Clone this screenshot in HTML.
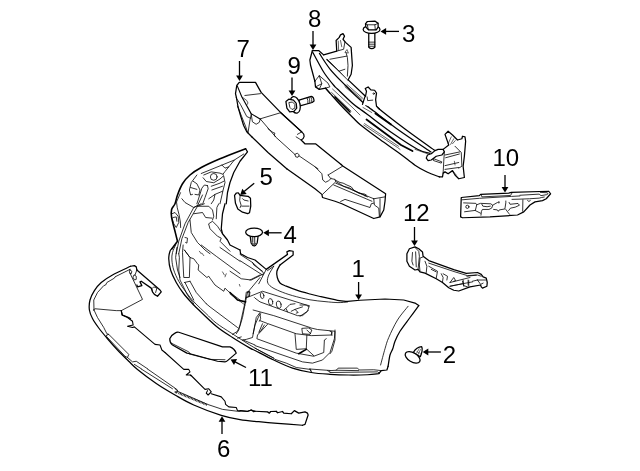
<!DOCTYPE html>
<html lang="en">
<head>
<meta charset="utf-8">
<title>Front Bumper Parts Diagram</title>
<style>
html,body{margin:0;padding:0;background:#fff;}
body{width:640px;height:471px;overflow:hidden;}
svg{display:block;filter:grayscale(1);}
svg path, svg line, svg polyline, svg ellipse, svg circle{vector-effect:non-scaling-stroke;}
.p{fill:none;stroke:#000;stroke-width:.8;stroke-linecap:round;stroke-linejoin:round;}
.o{fill:none;stroke:#000;stroke-width:1.25;stroke-linecap:round;stroke-linejoin:round;}
.t{fill:none;stroke:#111;stroke-width:0.65;stroke-linecap:round;stroke-linejoin:round;}
.w{fill:#fff;}
.lbl{font-family:"Liberation Sans",Arial,sans-serif;font-size:24px;fill:#000;}
.al{stroke:#000;stroke-width:1.3;fill:none;}
.ah{fill:#000;stroke:none;}
</style>
</head>
<body>
<svg width="640" height="471" viewBox="0 0 640 471">
<rect width="640" height="471" fill="#fff"/>
<!-- part 1: bumper cover -->
<g id="part1">
 <!-- long smooth outlines (real coords) -->
 <path class="o" style="stroke-width:1.6" d="M245.60,148.75 C241.33,150.42 227.39,155.62 220.00,158.75 C212.61,161.88 206.25,164.79 201.25,167.50 C196.25,170.21 193.12,172.29 190.00,175.00 C186.88,177.71 184.58,180.42 182.50,183.75 C180.42,187.08 178.75,191.67 177.50,195.00 C176.25,198.33 175.98,201.33 175.00,203.75 C174.02,206.17 172.17,207.21 171.60,209.50 C171.03,211.79 171.03,213.88 171.60,217.50 C172.17,221.12 174.02,227.29 175.00,231.25 C175.98,235.21 177.08,239.58 177.50,241.25 L171.9,248.75"/>
 <path class="o" d="M171.90,248.75 C171.58,249.17 170.53,249.58 170.00,251.25 C169.47,252.92 168.65,255.62 168.75,258.75 C168.85,261.88 169.35,266.04 170.60,270.00 C171.85,273.96 174.06,278.54 176.25,282.50 C178.44,286.46 181.04,290.21 183.75,293.75 C186.46,297.29 190.21,301.25 192.50,303.75 C194.79,306.25 193.54,305.00 197.50,308.75 C201.46,312.50 210.42,321.46 216.25,326.25 C222.08,331.04 226.88,333.86 232.50,337.50 C238.12,341.14 246.25,345.93 250.00,348.10 C253.75,350.27 251.04,348.52 255.00,350.50 C258.96,352.48 267.50,357.07 273.75,360.00 C280.00,362.93 286.25,366.02 292.50,368.10 C298.75,370.18 305.00,371.47 311.25,372.50 C317.50,373.53 323.75,373.88 330.00,374.30 C336.25,374.72 342.50,374.93 348.75,375.00 C355.00,375.07 362.50,374.96 367.50,374.75 C372.50,374.54 376.88,373.92 378.75,373.75 L381.25,370.6 L386.9,370 L388.1,366.25"/>
 <path class="o" d="M388.10,366.25 C388.42,364.38 389.23,357.92 390.00,355.00 C390.77,352.08 391.92,351.04 392.75,348.75 C393.58,346.46 393.79,344.17 395.00,341.25 C396.21,338.33 397.50,335.21 400.00,331.25 C402.50,327.29 406.88,321.77 410.00,317.50 C413.12,313.23 417.29,307.58 418.75,305.60"/>
 <path class="p" d="M175.60,245.00 C175.08,246.25 173.12,250.00 172.50,252.50 C171.88,255.00 171.69,257.08 171.90,260.00 C172.11,262.92 172.61,266.46 173.75,270.00 C174.89,273.54 176.67,277.50 178.75,281.25 C180.83,285.00 183.54,288.88 186.25,292.50 C188.96,296.12 191.71,299.50 195.00,303.00 C198.29,306.50 202.46,310.15 206.00,313.50 C209.54,316.85 211.93,319.77 216.25,323.10 C220.57,326.43 225.44,329.33 231.90,333.50 C238.36,337.67 248.03,344.00 255.00,348.10 C261.98,352.20 270.62,356.43 273.75,358.10"/>
 <!-- 1A: upper-left wing -->
 <g transform="translate(170,145) scale(.125)">
  <path class="o" d="M605,30 L620,55 L560,130 L510,220 L480,300 L460,380 L450,470"/>
  <path class="p" d="M590,72 L515,120 L250,228"/>
  <path class="p" d="M515,120 L440,212 L425,232 M415,160 L440,185 L470,175"/>
  <circle class="p" cx="350" cy="255" r="27"/>
  <path class="p" d="M270,240 L330,215 L400,225 L425,235 M265,262 L290,292 L350,302 L400,272 L430,245"/>
  <path class="p" d="M300,325 L275,320 L255,345 L225,440 L215,470 M300,325 L305,350 L280,420 L262,470"/>
  <path class="p" d="M215,240 L170,300 L155,360 L165,400 L180,395 M185,290 L215,310 L240,360 L230,400 L200,395 M165,340 L215,355"/>
  <path class="p" d="M330,330 L400,305 L430,290 M335,360 L420,330 M310,430 L360,395 L350,440 L330,470 M360,395 L420,370"/>
  <path class="p" d="M430,250 L440,300 L425,360 L400,470"/>
 </g>
 <!-- 1B -->
 <g transform="translate(160,195) scale(.125)">
  <path class="p" d="M95,150 L120,140 L145,170 L150,220 L130,260 L110,230 L95,180 M105,180 L130,175 L135,210"/>
  <path class="p" d="M164,-18 L132,56 L138,102 L152,155 L163,216 L165,260"/>
  <path class="p" d="M175,30 L200,60 L270,100 L300,85 L340,0"/>
  <path class="p" d="M330,70 L270,100 L200,230 L150,370 L130,470 M355,70 L300,90 L225,220 L175,350 L150,470"/>
  <path class="p" d="M300,90 L390,90 L420,120 L430,170 L420,200 M270,150 L340,140 L365,180 L415,185"/>
  <path class="p" d="M240,200 L250,300 L300,380 L360,440 L400,470"/>
  <path class="p" d="M390,230 L420,210 L460,250 L500,310"/>
  <path class="p" d="M390,235 L400,270 L460,330 L490,345 L480,370 L560,450"/>
  <path class="p" d="M470,70 L455,100 L450,190"/>
  <path class="o" d="M520,70 L500,150 L490,270 L500,310 L540,360 L560,400 L600,420 L640,440"/>
  <path class="p" d="M200,340 L220,345 L215,385 L205,380"/>
 </g>
 <!-- 1C -->
 <g transform="translate(160,245) scale(.125)">
  <path class="p" d="M135,20 L125,100 L140,200 L160,260"/>
  <path class="p" d="M150,70 L155,100 L150,200 L160,280 L220,400 L270,470"/>
  <path class="p" d="M185,0 L180,60 L190,260 L235,260 L240,100 L195,40"/>
  <path class="p" d="M195,300 L240,290 M200,300 L250,400 L270,440 M240,290 L290,380 L370,470"/>
  <path class="p" d="M195,40 L240,100 L270,110 L300,150 L310,160 L305,200 L375,260 L390,250 L400,265 L440,320 L510,370 L520,345 L545,370 L580,395 L640,440"/>
  <path class="t" d="M315,50 L330,70 M335,65 L350,85 M500,215 L515,240 M530,230 L520,255"/>
  <path class="p" d="M330,0 L450,90 L640,230 M480,20 L640,130"/>
 </g>
 <!-- 1D: horn -->
 <g transform="translate(230,225) scale(.125)">
  <path class="o" d="M80,200 L85,230 L140,260 L200,280 L290,355 L460,235 L455,215 L475,205 L505,210 L505,240 L400,320"/>
  <path class="p" d="M290,355 L230,470 M300,365 L350,330"/>
  <path class="p" d="M80,235 L180,300 L270,385 M180,300 L190,320 L260,370 M80,285 L260,400"/>
  <path class="p" d="M0,370 L90,430 L170,440 L270,390 M160,440 L240,400"/>
 </g>
 <!-- 1E: fog-lamp area -->
 <g transform="translate(230,275) scale(.125)">
  <path class="p" d="M150,175 L260,130 L610,240 L635,245 L620,290 L580,325 L540,325 L240,215 L200,185 L195,180"/>
  <ellipse class="p" cx="257" cy="165" rx="14" ry="24" transform="rotate(-12 257 165)"/>
  <ellipse class="p" cx="325" cy="215" rx="17" ry="27" transform="rotate(-12 325 215)"/>
  <ellipse class="p" cx="390" cy="237" rx="19" ry="30" transform="rotate(-12 390 237)"/>
  <path class="p" d="M430,280 L450,265 L480,235 L520,230 M450,270 L460,295 M490,290 L520,275 L580,255 M520,275 L545,300 L530,305"/>
  <path class="p" d="M185,280 L350,325 L640,420"/>
  <path class="p" d="M240,20 L140,140 L125,210 L100,340 L70,440 L50,470"/>
  <path class="p" d="M135,135 L155,130 L150,170 L125,185"/>
  <path class="p" style="stroke-width:1.6" d="M0,140 L60,200 L125,215"/>
  <path class="t" d="M0,152 L120,240"/>
  <path class="p" d="M245,310 L230,330 L200,400 L185,470 M240,310 L245,350 L235,370"/>
  <path class="t" d="M75,75 L80,90"/>
 </g>
 <!-- 1F + 1G: right fender top edge -->
 <path class="o" d="M280.00,265.00 C279.48,266.04 277.35,269.17 276.90,271.25 C276.45,273.33 276.78,275.54 277.30,277.50 C277.82,279.46 278.51,281.55 280.00,283.00 C281.49,284.45 283.33,284.97 286.25,286.20 C289.17,287.43 293.54,289.10 297.50,290.40 C301.46,291.70 306.25,292.98 310.00,294.00 C313.75,295.02 315.42,295.45 320.00,296.50 C324.58,297.55 332.92,299.48 337.50,300.30 C342.08,301.12 345.83,301.22 347.50,301.40 L360,300.25 L385,299 L403.75,300 L415,303.1 L418.75,305.6"/>
 <path class="p" d="M273.75,266.25 C272.92,267.71 269.79,272.38 268.75,275.00 C267.71,277.62 267.08,280.03 267.50,282.00 C267.92,283.97 269.17,285.26 271.25,286.80 C273.33,288.34 276.46,289.78 280.00,291.25 C283.54,292.72 287.50,294.18 292.50,295.60 C297.50,297.03 304.58,298.80 310.00,299.80 C315.42,300.80 320.33,301.13 325.00,301.60 C329.67,302.07 334.25,302.53 338.00,302.60 C341.75,302.67 345.92,302.10 347.50,302.00"/>
 <path class="p" d="M408.10,306.25 C406.33,308.54 400.73,314.79 397.50,320.00 C394.27,325.21 390.83,332.71 388.75,337.50 C386.67,342.29 386.36,344.17 385.00,348.75 C383.64,353.33 381.33,362.29 380.60,365.00"/>
 <g transform="translate(300,275) scale(.125)">
  <path class="p" d="M0,330 L60,290 L65,285 M0,240 L50,240 L70,255"/>
 </g>
 <!-- 1H: lower right -->
 <g transform="translate(330,330) scale(.125)">
  <path class="p" d="M0,325 L50,322 L65,305 L220,305 L235,320 L350,318 L410,325 M50,322 L230,325"/>
  <path class="p" d="M0,340 L380,335 L395,345"/>
  <path class="p" d="M40,0 L40,80 L15,170 L0,190 M0,10 L15,15 L15,45"/>
 </g>
 <!-- 1I: lower opening -->
 <g transform="translate(255,320) scale(.125)">
  <path class="p" d="M440,62 L500,76 L640,90 L635,150 L600,260 L540,320 L460,345 L380,335 L0,205"/>
  <path class="p" d="M40,5 L100,28 L330,110 L450,125 L610,120 L615,95"/>
  <path class="p" d="M100,35 L20,120 L15,150 L330,265 L470,290 L550,260 L555,160 L570,150"/>
  <path class="p" d="M60,30 L30,100 L45,90 L75,40"/>
  <path class="p" d="M320,110 L330,235 L410,230 L415,120 M375,70 L380,110 L440,115 L455,80 L430,65 Z M415,80 L445,110 M410,230 L470,285"/>
  <path class="p" style="stroke-width:1.6" d="M410,235 L350,270"/>
  <path class="p" d="M0,225 L150,305 L160,315 L250,345 L330,380 L440,395 L450,410 M440,390 L450,415 M440,392 L600,404 M580,405 L600,415"/>
 </g>
 <!-- 1J: lower-left lip -->
 <g transform="translate(185,290) scale(.125)">
  <path class="p" d="M170,110 L200,135 L420,300"/>
  <path class="p" d="M490,20 L480,100 L440,280 L420,330 L380,355 M500,20 L520,15 L515,50 L495,60"/>
  <path class="p" d="M600,180 L570,220 L540,380 L490,395 L460,400 M420,385 L450,375"/>
  <path class="p" d="M465,400 L560,440"/>
 </g>
</g>

<!-- part 3: flange bolt -->
<g id="part3" transform="translate(350,14) scale(.09375)">
 <path class="o w" d="M200,200 L200,355 Q232,385 265,355 L265,200 Z"/>
 <path class="p" d="M200,300 L265,300 M200,322 L265,322 M200,344 L265,344"/>
 <ellipse class="o w" cx="230" cy="165" rx="90" ry="42"/>
 <path class="o w" d="M165,105 L185,80 L265,75 L300,100 L300,140 L280,170 L200,170 L170,140 Z"/>
 <path class="p" d="M165,105 L185,115 L265,115 L300,100 M185,115 L195,168 M265,115 L270,168"/>
</g>
<!-- part 9: flange bolt (horizontal) -->
<g id="part9" transform="translate(270,80) scale(.09375)">
 <path class="o w" d="M310,215 L440,175 Q468,180 470,225 L450,240 L320,275 Z"/>
 <path class="p" d="M395,190 Q408,215 405,250 M415,184 Q428,210 425,246 M435,178 Q450,205 446,240"/>
 <ellipse class="o w" cx="268" cy="265" rx="52" ry="90" transform="rotate(-14 268 265)"/>
 <path class="o w" d="M170,230 L200,205 L250,215 L280,250 L285,300 L255,335 L210,340 L180,300 Z"/>
 <path class="p" d="M205,240 L240,235 L265,260 L265,300 L235,315 L215,295 Z"/>
</g>
<!-- part 4: push clip -->
<g id="part4" transform="translate(230,212) scale(.09375)">
 <path class="o w" d="M215,255 L225,330 Q258,395 290,330 L300,255 Z"/>
 <path class="p" d="M240,262 L240,320 M262,262 L262,335 M240,335 Q258,355 275,335" style="stroke-width:1.4;stroke:#555"/>
 <ellipse class="o w" cx="257" cy="217" rx="90" ry="46"/>
</g>
<!-- part 2: push clip (tilted) -->
<g id="part2" transform="translate(395,330) scale(.09375)">
 <path class="o w" d="M195,240 Q230,180 285,178 Q300,210 270,285 Z"/>
 <path class="p" d="M228,250 L258,200 M245,262 L272,208 M235,232 L268,248" style="stroke:#555"/>
 <ellipse class="o w" cx="188" cy="292" rx="88" ry="48" transform="rotate(31 188 292)"/>
</g>

<!-- part 5: small bracket -->
<g id="part5" transform="translate(220,178) scale(.09375)">
 <path class="o w" d="M155,185 L175,160 L195,158 L215,185 L255,190 L300,195 L325,215 L328,300 L315,370 L295,380 L240,365 L190,330 L165,270 Z"/>
 <path class="p" d="M215,185 L210,240 L225,290 L215,315 M240,220 L255,235 L300,245 M232,300 L310,300"/>
</g>
<!-- part 10: side support bracket -->
<g id="part10">
 <path class="o w" d="M461.25,197.5 L479.4,195.6 L480.6,194.4 L508.75,193.1 L511.25,192.3 L548.75,191.25 L550.6,193.75 L546.25,198.75 L542.5,200.6 L535,201.9 L530,205 L523.75,211.9 L517.5,215 L490,216.9 L462.5,217.75 L460.6,216.9 Z"/>
 <g transform="translate(458,186) scale(.09375)">
  <path class="p" d="M45,147 L230,131 L570,111 L660,106"/>
  <path class="p" d="M245,90 L255,116 L560,101 L580,68"/>
  <circle class="p" cx="100" cy="222" r="17"/>
  <path class="p" d="M60,180 L190,185 L200,200 L185,260 L70,275 M185,262 L240,290"/>
  <path class="p" d="M200,200 L240,185 L350,190 L370,205 L360,235 L330,250 L260,250 L250,270 L245,312"/>
  <path class="p" d="M255,196 L265,215 L310,221 L345,215"/>
  <path class="p" d="M370,205 L420,176 L440,181 L436,165"/>
  <path class="p" d="M380,250 L420,255 L430,270 L440,255 L500,245 L510,180 L510,160"/>
  <path class="p" d="M545,175 L555,195 L640,186 L655,205 L610,226 L560,236 L540,262"/>
  <path class="p" d="M692,147 L690,269 M742,154 L756,165 L771,155"/>
  <path class="p" d="M510,250 L540,290 L550,302"/>
 </g>
 <g transform="translate(490,175) scale(.125)">
  <path class="p" d="M240,162 L393,153 L408,165 L454,157 L464,150 L459,142 L403,139"/>
  <path class="p" d="M176,195 L240,193 L316,190 L393,185 L413,180 L434,176"/>
 </g>
</g>
<!-- part 12: lower support arm -->
<g id="part12">
 <path class="o w" d="M409.4,248.75 L415,246.9 L418.75,248.75 L422.5,251.9 L423.1,256.25 L428.75,260.6 L453.75,269.7 L466.25,273.4 L477.5,272.5 L481.25,274.4 L483.1,276.9 L486.25,278.1 L487.25,282.5 L486.9,286.25 L482.5,288.1 L481.25,286.9 L480.6,285 L470,286.9 L458.75,291 L453.75,290.25 L448.75,287.8 L442.5,282.5 L436.25,278.75 L425,273.1 L420,271.9 L418.1,269.4 L415,270 L409.4,266.25 L406.9,261.25 L406.9,253.75 Z"/>
 <g transform="translate(400,240) scale(.125)">
  <path class="p" d="M120,60 L150,90 L155,130 L145,230"/>
  <path class="p" d="M100,100 L95,170 L105,200 M125,95 L130,215"/>
  <path class="p" d="M160,145 L185,135 M160,150 L155,200 L160,250"/>
  <path class="p" d="M200,170 L215,210 L210,260"/>
  <path class="p" d="M230,185 L440,255 L540,285 L610,280"/>
  <path class="p" d="M230,210 L300,250 L290,305 M250,235 L290,255"/>
  <path class="p" d="M330,270 L345,300 L340,335 M345,270 L380,290 L375,320"/>
  <path class="p" d="M400,340 L430,300 L445,325 L430,330 M400,340 L480,320 L560,300"/>
  <path class="p" d="M500,330 L510,370 M545,320 L545,360 M400,370 L500,350"/>
 </g>
 <g transform="translate(440,250) scale(.125)">
  <path class="p" d="M215,210 L300,200 L330,210"/>
  <path class="p" d="M300,240 L365,240 M300,240 L325,275 L345,265 M260,250 L300,240"/>
  <path class="p" d="M185,240 L190,285 L220,295 M230,245 L230,290"/>
  <path class="p" d="M80,290 L180,270 L260,255"/>
 </g>
</g>

<!-- part 6: lower spoiler / valance -->
<g id="part6">
 <path d="M178.5,393 L193,399 L207.5,405" style="fill:none;stroke:#222;stroke-width:2.2;stroke-dasharray:0.9 0.6;stroke-linecap:butt"/>
 <path class="o" d="M130.60,266.25 C127.58,267.71 117.39,272.29 112.50,275.00 C107.61,277.71 104.27,279.90 101.25,282.50 C98.23,285.10 96.28,287.68 94.40,290.60 C92.53,293.52 90.83,296.77 90.00,300.00 C89.17,303.23 88.98,306.92 89.40,310.00 C89.82,313.08 90.94,315.50 92.50,318.50 C94.06,321.50 96.25,324.62 98.75,328.00 C101.25,331.38 104.38,335.08 107.50,338.75 C110.62,342.42 113.96,346.25 117.50,350.00 C121.04,353.75 125.42,358.00 128.75,361.25 C132.08,364.50 132.92,365.79 137.50,369.50 C142.08,373.21 150.00,379.25 156.25,383.50 C162.50,387.75 168.75,391.42 175.00,395.00 C181.25,398.58 186.04,401.60 193.75,405.00 C201.46,408.40 213.54,412.97 221.25,415.40 C228.96,417.83 233.75,418.55 240.00,419.60 C246.25,420.65 252.50,421.07 258.75,421.70 C265.00,422.33 270.21,422.81 277.50,423.40 C284.79,423.99 298.33,424.94 302.50,425.25"/>
 <g transform="translate(85,260) scale(.125)">
  <path class="o" d="M415,80 L410,55 L395,45 L365,50"/>
  <path class="p" d="M360,75 L240,135 L235,145 L175,180 L165,200 L150,205 L100,260 L70,320 L72,400"/>
  <path class="p" d="M66,402 L80,390 L250,405 L290,405 L460,315 L355,95 L360,75"/>
  <path class="o" d="M415,80 L600,240 L610,255 L580,290 L555,275 L540,255 L530,225 L450,170 L440,175 L455,205 L420,215 L415,200"/>
  <path class="p" d="M540,255 L535,230 L550,215 L575,225 L565,260"/>
  <path class="p" d="M395,120 L410,130 L410,155 L395,160 L385,140 Z"/>
  <path class="p" d="M360,80 L375,90 L370,110 L358,105 M415,80 L400,120"/>
  <path class="o" d="M290,405 L300,440 L350,460 L365,470" style="stroke-width:1.1"/>
 </g>
 <g transform="translate(85,310) scale(.125)">
  <path class="p" d="M72,0 L100,60 L150,140 L175,190 L190,195"/>
  <path class="p" d="M175,200 L190,195 L350,355 L340,380 L320,370 L175,215 Z"/>
  <path class="p" d="M340,380 L380,415 L410,410 L500,470 M395,435 L450,470"/>
  <path class="o" style="stroke-width:1.1" d="M290,5 L295,40 L340,60 L380,90 L385,120 L340,130 L380,140 L395,135 L560,275 L600,280 L615,320 L640,340"/>
 </g>
 <g transform="translate(125,345) scale(.125)">
  <path class="p" d="M180,192 L400,345 L420,360 L410,380 L400,370"/>
  <path class="p" d="M130,192 L380,350"/>
  <path class="o" style="stroke-width:1.1" d="M320,60 L470,195 L510,195 L520,215 L490,240 L520,240 L526,245"/>
 </g>
 <g transform="translate(175,370) scale(.125)">
  <path class="p" d="M0,150 L20,165 L15,185 L0,180 M20,170 L260,275 L380,315 L500,330 L520,331"/>
  <path class="o" style="stroke-width:1.1" d="M125,40 L240,155 L270,150 L290,175 L265,200 L250,185 L260,165 M290,190 L370,215 L400,250 L405,275 L430,295 L490,300 L500,325 L580,330 L610,320 L640,330"/>
 </g>
 <g transform="translate(240,385) scale(.125)">
  <path class="o" d="M120,210 L220,215 L235,225 L245,212 L290,210 L300,222 L340,212 L350,225 L410,230 L435,205 L470,225 L520,215 L540,225 L545,240 L520,315 L500,322"/>
  <path class="o" style="stroke-width:1.1" d="M0,205 L60,212 L90,200 L110,215 L120,210"/>
 </g>
</g>
<!-- part 11: trim panel -->
<g id="part11" transform="translate(160,320) scale(.125)">
 <path class="o w" d="M120,105 Q135,95 150,98 L500,215 L560,215 Q595,228 610,265 L540,325 Q530,335 520,335 L460,330 L240,270 L215,265 L100,200 Q78,185 78,150 Q90,120 120,105 Z"/>
 <path class="p" d="M90,185 L230,255 L240,268 M235,272 L400,315 L520,318"/>
</g>

<!-- part 7: energy absorber -->
<g id="part7">
 <g transform="translate(228,78) scale(.125)">
  <path class="o" d="M190,470 L150,430 L125,380 L100,300 L80,230 L68,160 L60,125 L70,60 L90,35 L220,35 L265,115 L420,275 L590,431"/>
  <path class="p" style="stroke-width:1.1" d="M75,65 L110,150 L185,285 L260,330"/>
  <path class="p" d="M260,330 L380,470"/>
  <path class="p" d="M260,326 L420,278"/>
  <path class="p" d="M135,140 L260,125"/>
  <path class="t" d="M110,150 L150,180 L160,200 L150,215"/>
  <path class="p" d="M185,285 L195,350 L225,370 L250,355 L258,330"/>
  <path class="p" d="M66,160 L100,212 L150,308 L180,322"/>
  <path class="p" d="M76,225 L110,310 L140,385 L158,438"/>
  <path class="p" d="M186,292 L176,335 L160,440"/>
 </g>
 <g transform="translate(268,110) scale(.125)">
  <path class="o" d="M100,20 L270,175 Q292,192 289,212 Q285,232 265,240 L295,270 L380,270 L585,436"/>
  <path class="p" d="M270,175 L235,195 M225,215 L265,240"/>
  <path class="p" d="M0,150 L40,180 L55,185 L50,200 L60,215 L215,355 L235,345 L250,360 L240,378 L222,375 L215,355 M250,368 L400,470"/>
  <path class="o" d="M-130,214 L0,340 L150,470"/>
 </g>
 <g transform="translate(315,160) scale(.125)">
  <path class="o" d="M209,36 L225,50 L565,270 L560,330 L550,400 L520,455 L470,468 L215,350 L160,330 L60,300 L55,275 L0,230 L-226,70"/>
  <path class="p" d="M220,50 L105,120"/>
  <path class="p" d="M0,55 L55,110 L62,160 L85,178 L110,165 L128,148"/>
  <path class="p" d="M105,120 L125,148 L160,155 L165,170"/>
  <path class="p" d="M160,180 L60,275"/>
  <path class="p" d="M160,160 L200,180 L225,185 L255,200 L290,215 L310,240 L350,265 L380,270 L395,272 L410,280 L400,290"/>
  <path class="p" d="M165,185 L470,310 M150,200 L455,330 M165,172 L230,210 L280,225 L310,245 L420,295"/>
  <path class="p" d="M470,310 L560,295"/>
  <path class="p" d="M470,310 L475,360 L510,385 L515,450 M520,310 L520,455"/>
  <path class="p" d="M205,332 L240,315 L440,380 L450,350 L470,345"/>
 </g>
</g>

<!-- part 8: impact bar / reinforcement -->
<g id="part8">
 <!-- long bar lines (real coords) -->
 <path class="o" d="M326.90,59.50 C330.25,62.70 340.75,72.73 347.00,78.70 C353.25,84.67 359.53,90.67 364.40,95.30 C369.27,99.93 369.43,100.88 376.20,106.50 C382.97,112.12 395.20,121.65 405.00,129.00 C414.80,136.35 430.00,147.00 435.00,150.60"/>
 <path class="o" d="M319.40,53.40 C321.20,56.05 325.93,64.03 330.20,69.30 C334.47,74.57 339.53,79.47 345.00,85.00 C350.47,90.53 358.10,98.07 363.00,102.50 C367.90,106.93 368.23,106.85 374.40,111.60 C380.57,116.35 390.57,124.27 400.00,131.00 C409.43,137.73 425.83,148.50 431.00,152.00"/>
 <path class="o" style="stroke-width:1.25" d="M312.60,52.00 C313.50,53.67 316.00,58.42 318.00,62.00 C320.00,65.58 321.95,69.58 324.60,73.50 C327.25,77.42 331.72,82.87 333.90,85.50 C336.08,88.13 334.52,86.25 337.70,89.30 C340.88,92.35 349.28,100.52 353.00,103.80 C356.72,107.08 357.58,107.22 360.00,109.00 C362.42,110.78 362.00,110.42 367.50,114.50 C373.00,118.58 384.67,127.72 393.00,133.50 C401.33,139.28 411.33,145.87 417.50,149.20 C423.67,152.53 427.92,152.78 430.00,153.50"/>
 <path class="o" d="M325.50,88.10 C326.23,88.93 327.32,90.20 329.90,93.10 C332.48,96.00 337.15,101.40 341.00,105.50 C344.85,109.60 349.83,114.55 353.00,117.70 C356.17,120.85 355.50,120.77 360.00,124.40 C364.50,128.03 373.33,134.62 380.00,139.50 C386.67,144.38 394.17,149.42 400.00,153.70 C405.83,157.98 410.50,162.15 415.00,165.20 C419.50,168.25 422.93,170.05 427.00,172.00 C431.07,173.95 437.33,176.08 439.40,176.90"/>
 <!-- slot hatching bands -->
 <path class="t" d="M346,85.5 L362,99.5 M347,84.5 L363,98.5 M345,86.8 L361,100.6"/>
 <path class="p" d="M375.4,113.4 L391,124.6" style="stroke-width:1.8"/>
 <path class="t" d="M332.5,89 L353,108 L360,115 M331.6,92.5 L351,111 M334.4,96 L349,110"/>
 <path class="p" d="M335,97 L350,112" style="stroke-width:1.6"/>
 <path class="p" d="M366.5,119.5 L401,145 L412.5,151" style="stroke-width:1.8"/>
 <path class="t" d="M363.7,125 L397.5,147.5 L400,149.4 M364.5,123.6 L398.5,146.3"/>
 <!-- left end -->
 <g transform="translate(303,28) scale(.125)">
  <path class="w" d="M165,215 L270,185 L265,100 L290,75 L300,55 L320,45 L332,65 L320,90 L340,115 L385,155 L395,300 L385,370 L360,416 L190,238 Z"/>
  <path class="o" d="M165,215 L270,185 L265,100 L290,75 L300,55 L320,45 L332,65 L320,90 L340,115 L385,155 L395,300 L385,370 L360,416"/>
  <path class="o" d="M75,180 L125,180 L165,215"/>
  <path class="o" d="M75,180 L55,256 L60,296 L95,426"/>
  <path class="p" d="M345,200 L355,235 L360,300 L355,385"/>
  <path class="p" d="M215,250 L350,225 M290,345 L335,330"/>
  <path class="t" d="M350,175 L335,195 L360,200Z"/>
  <path class="t" d="M300,100 L310,150 M282,105 L285,178"/>
  <path class="p" d="M270,185 L325,170 L335,112"/>
 </g>
 <!-- left pocket -->
 <g transform="translate(303,60) scale(.125)">
  <path class="o" d="M95,170 L100,215 L130,235 L180,225 L215,265"/>
  <path class="p" d="M95,170 L130,125 L200,185 L215,215 L180,225"/>
  <path class="p" d="M130,125 L150,190 L130,235 M100,215 L150,190"/>
  <!-- middle tab -->
  <path class="w" d="M500,290 L510,240 L500,230 L520,215 L545,235 L565,240 L590,265 L580,330 L590,370 L611,392 L476,355 Z"/>
  <path class="o" d="M476,355 L495,295 L500,290 L508,250 L498,228 L521,216 L543,239 L573,242 L588,265 L581,317 L588,370 L611,392"/>
  <path class="p" d="M513,295 L517,325 L558,321"/>
  <circle class="p" cx="566" cy="269" r="6"/>
  <path class="t" d="M480,380 L550,420 M500,365 L560,400"/>
 </g>
 <!-- right end -->
 <g transform="translate(415,125) scale(.125)">
  <path class="w" d="M225,195 L270,160 L240,75 L265,50 L300,80 L340,120 L375,110 L380,90 L400,95 L405,130 L395,250 L385,330 L395,420 L350,430 L320,400 L300,365 L265,390 L240,375 L225,385 L230,290 L235,215 Z"/>
  <path class="o" d="M225,195 L270,160 L240,75 L265,50 L300,80 L340,120 L375,110 L380,90 L400,95 L405,130 L395,250 L385,330 L395,420 L350,430 L320,400 L300,365 L265,390 L240,375 L225,385 L220,415 L195,415"/>
  <path class="p" d="M235,215 L230,290 L225,385"/>
  <path class="p" d="M240,240 L360,215 M245,262 L355,232 M240,325 L350,300 M240,355 L350,340"/>
  <path class="p" d="M320,170 L370,220 L375,330 L350,345"/>
  <path class="t" d="M265,150 L290,95 M285,155 L310,110 M300,150 L322,125"/>
  <path class="t" d="M315,290 L320,320 M300,365 L330,400"/>
  <path class="o w" d="M160,205 L185,195 L225,195 L235,215 L215,240 L170,250 L130,280 L105,285 L90,265 L100,240 L130,230 Z"/>
  <path class="p" d="M150,270 L215,295 L210,305 L150,285Z"/>
  <path class="t" d="M0,195 L100,230"/>
 </g>
</g>

<!-- callout numbers -->
<g id="labels" class="lbl">
<text x="236.5" y="56.5">7</text>
<text x="308" y="27">8</text>
<text x="287.5" y="74">9</text>
<text x="402" y="42">3</text>
<text x="259.5" y="185">5</text>
<text x="283.5" y="243">4</text>
<text x="492.5" y="166">10</text>
<text x="403" y="221">12</text>
<text x="351.5" y="277">1</text>
<text x="442.7" y="363">2</text>
<text x="248" y="386">11</text>
<text x="217" y="456.5">6</text>
</g>

<!-- callout arrows -->
<g id="arrows">
<line class="al" x1="239.5" y1="61.0" x2="239.5" y2="75.9"/><path class="ah" d="M239.5,81.0 L236.1,75.4 L242.9,75.4 Z"/>
<line class="al" x1="313.0" y1="31.0" x2="313.0" y2="44.9"/><path class="ah" d="M313.0,50.0 L309.6,44.4 L316.4,44.4 Z"/>
<line class="al" x1="292.0" y1="77.5" x2="292.0" y2="90.9"/><path class="ah" d="M292.0,96.0 L288.6,90.4 L295.4,90.4 Z"/>
<line class="al" x1="399.0" y1="31.4" x2="385.6" y2="31.4"/><path class="ah" d="M380.5,31.4 L386.1,28.0 L386.1,34.8 Z"/>
<line class="al" x1="254.2" y1="183.2" x2="244.1" y2="191.6"/><path class="ah" d="M240.2,194.9 L242.3,188.7 L246.7,193.9 Z"/>
<line class="al" x1="281.6" y1="232.8" x2="268.4" y2="232.8"/><path class="ah" d="M263.3,232.8 L268.9,229.4 L268.9,236.2 Z"/>
<line class="al" x1="505.0" y1="175.0" x2="505.0" y2="187.4"/><path class="ah" d="M505.0,192.5 L501.6,186.9 L508.4,186.9 Z"/>
<line class="al" x1="414.5" y1="227.0" x2="414.5" y2="240.9"/><path class="ah" d="M414.5,246.0 L411.1,240.4 L417.9,240.4 Z"/>
<line class="al" x1="358.6" y1="282.0" x2="358.6" y2="295.0"/><path class="ah" d="M358.6,300.1 L355.2,294.5 L362.0,294.5 Z"/>
<line class="al" x1="440.9" y1="352.0" x2="427.8" y2="352.0"/><path class="ah" d="M422.7,352.0 L428.3,348.6 L428.3,355.4 Z"/>
<line class="al" x1="246.0" y1="367.5" x2="235.1" y2="361.8"/><path class="ah" d="M230.6,359.4 L237.1,359.0 L234.0,365.0 Z"/>
<line class="al" x1="222.0" y1="434.0" x2="222.0" y2="421.3"/><path class="ah" d="M222.0,416.2 L225.4,421.8 L218.6,421.8 Z"/>
</g>

</svg>
</body>
</html>
